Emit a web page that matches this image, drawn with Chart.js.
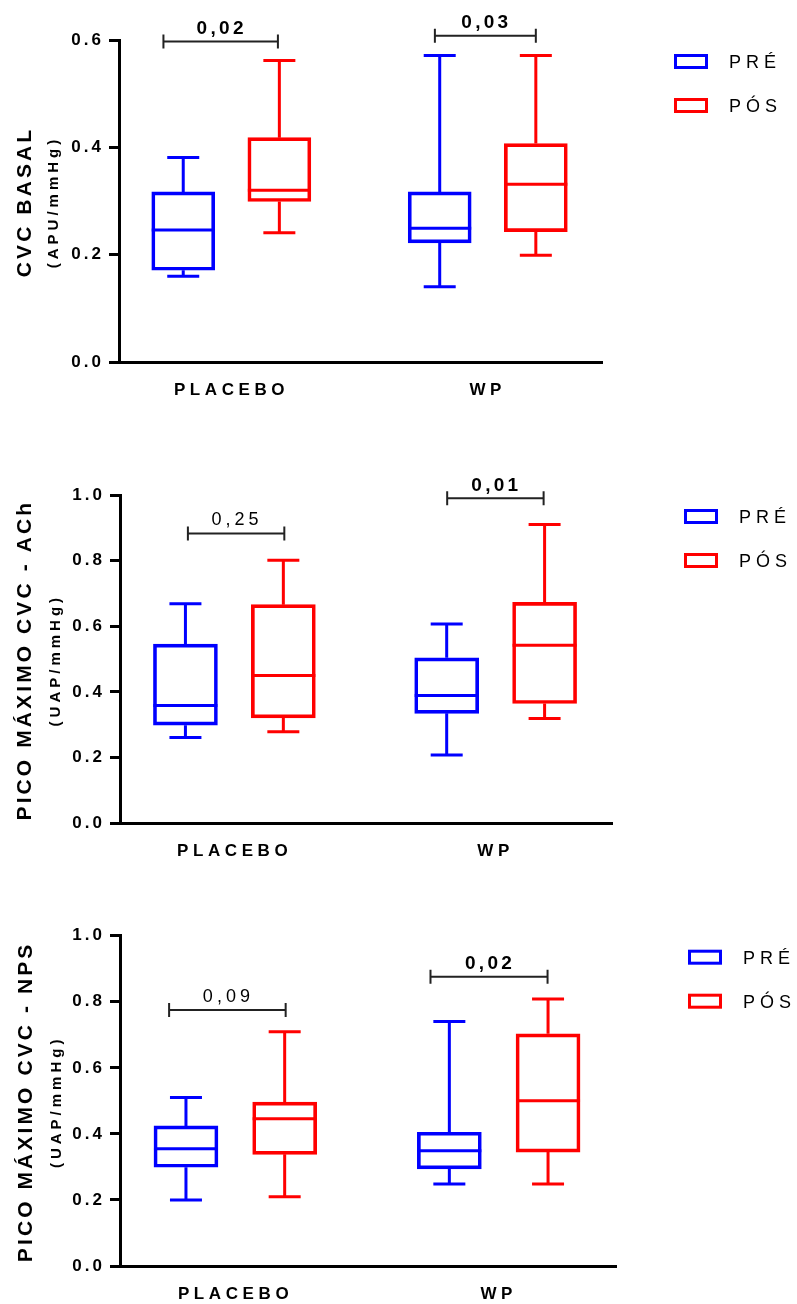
<!DOCTYPE html>
<html>
<head>
<meta charset="utf-8">
<script src="https://cdn.jsdelivr.net/npm/chart.js@4.4.1/dist/chart.umd.min.js"></script>
<style>
  html, body { margin: 0; padding: 0; background: #fff; }
  body { width: 797px; height: 1304px; position: relative; overflow: hidden; }
  canvas { position: absolute; left: 0; display: block; }
</style>
</head>
<body>
<canvas id="basalChart" width="797" height="440" style="top:0px"></canvas>
<canvas id="achChart" width="797" height="450" style="top:440px"></canvas>
<canvas id="npsChart" width="797" height="414" style="top:890px"></canvas>

<script>
// groups on the x axis and the two series
const groups = ["PLACEBO", "WP"];
const seriesNames = ["PRÉ", "PÓS"];

// five-number summaries per group: [min, Q1, median, Q3, max]
const basalPre = [[0.160, 0.171, 0.246, 0.317, 0.381], [0.140, 0.222, 0.249, 0.317, 0.571]];
const basalPos = [[0.241, 0.299, 0.320, 0.418, 0.562], [0.199, 0.243, 0.331, 0.407, 0.571]];
const basalP = ["0,02", "0,03"];
const basalBracketY = [0.597, 0.608];

const achPre = [[0.261, 0.299, 0.359, 0.546, 0.669], [0.208, 0.335, 0.389, 0.504, 0.607]];
const achPos = [[0.279, 0.321, 0.450, 0.666, 0.801], [0.319, 0.365, 0.542, 0.673, 0.910]];
const achP = ["0,25", "0,01"];
const achBracketY = [0.883, 0.990];

const npsPre = [[0.200, 0.299, 0.355, 0.424, 0.510], [0.248, 0.294, 0.349, 0.405, 0.740]];
const npsPos = [[0.210, 0.338, 0.446, 0.496, 0.709], [0.248, 0.345, 0.500, 0.703, 0.808]];
const npsP = ["0,09", "0,02"];
const npsBracketY = [0.775, 0.876];

/* ================= LAYOUT ================= */

const FONT = '"Liberation Sans", Arial, Helvetica, sans-serif';
Chart.defaults.font.family = FONT;
Chart.defaults.color = "#000";

const slotX = { pre: [1.33, 6.64], pos: [3.32, 8.63] };   // x-axis units (0..10)
const groupX = [2.33, 7.635];
const BLUE = "#0000ff";
const RED = "#ff0000";

function spaced(scale, px) {
  if (!scale || scale._spaced) return;
  const draw = scale.drawLabels;
  scale.drawLabels = function (area) {
    const c = this.ctx;
    const old = c.letterSpacing;
    c.letterSpacing = px;
    draw.call(this, area);
    c.letterSpacing = old;
  };
  scale._spaced = true;
}

const boxExtras = {
  id: "boxExtras",
  afterLayout(chart) {
    spaced(chart.scales.x, "4.6px");
    spaced(chart.scales.y, "3px");
  },
  afterDatasetsDraw(chart) {
    const ctx = chart.ctx;
    const ys = chart.scales.y;
    chart.data.datasets.forEach((ds, di) => {
      chart.getDatasetMeta(di).data.forEach((bar, i) => {
        const [mn, q1, md, q3, mx] = ds.stats[i];
        const half = bar.width / 2;
        const cap = 16;
        ctx.save();
        ctx.strokeStyle = ds.borderColor;
        ctx.lineWidth = 3;
        ctx.beginPath();
        ctx.moveTo(bar.x - half, ys.getPixelForValue(md));
        ctx.lineTo(bar.x + half, ys.getPixelForValue(md));
        ctx.moveTo(bar.x, ys.getPixelForValue(q3));
        ctx.lineTo(bar.x, ys.getPixelForValue(mx));
        ctx.moveTo(bar.x - cap, ys.getPixelForValue(mx));
        ctx.lineTo(bar.x + cap, ys.getPixelForValue(mx));
        ctx.moveTo(bar.x, ys.getPixelForValue(q1));
        ctx.lineTo(bar.x, ys.getPixelForValue(mn));
        ctx.moveTo(bar.x - cap, ys.getPixelForValue(mn));
        ctx.lineTo(bar.x + cap, ys.getPixelForValue(mn));
        ctx.stroke();
        ctx.restore();
      });
    });
  },
  afterDraw(chart, args, opts) {
    const ctx = chart.ctx;
    const xs = chart.scales.x, ys = chart.scales.y;
    const area = chart.chartArea;

    // significance brackets
    opts.pLabels.forEach((txt, i) => {
      const x0 = xs.getPixelForValue(opts.spans[i][0]);
      const x1 = xs.getPixelForValue(opts.spans[i][1]);
      const y = ys.getPixelForValue(opts.bracketY[i]);
      const bold = parseFloat(txt.replace(",", ".")) < 0.05;
      ctx.save();
      ctx.strokeStyle = "#222";
      ctx.lineWidth = 2;
      ctx.beginPath();
      ctx.moveTo(x0, y); ctx.lineTo(x1, y);
      ctx.moveTo(x0, y - 7); ctx.lineTo(x0, y + 7);
      ctx.moveTo(x1, y - 7); ctx.lineTo(x1, y + 7);
      ctx.stroke();
      ctx.fillStyle = "#000";
      ctx.font = bold ? "bold 19px " + FONT : "18px " + FONT;
      ctx.letterSpacing = bold ? "3.3px" : "4px";
      ctx.textAlign = "center";
      ctx.textBaseline = "middle";
      ctx.fillText(txt, (x0 + x1) / 2 + 1, y - 13);
      ctx.restore();
    });

    // legend
    chart.data.datasets.forEach((ds, i) => {
      const bx = area.right + 72;
      const by = area.top + 14 + i * 44;
      ctx.save();
      ctx.strokeStyle = ds.borderColor;
      ctx.lineWidth = 3;
      ctx.strokeRect(bx + 1.5, by + 1.5, 31, 12);
      ctx.fillStyle = "#000";
      ctx.font = "18px " + FONT;
      ctx.letterSpacing = "5px";
      ctx.textAlign = "left";
      ctx.textBaseline = "middle";
      ctx.fillText(ds.label, bx + 55, by + 9);
      ctx.restore();
    });

    // rotated y titles
    const midY = (area.top + area.bottom) / 2 + 1;
    ctx.save();
    ctx.fillStyle = "#000";
    ctx.textAlign = "center";
    ctx.textBaseline = "middle";
    ctx.translate(opts.titleX, midY);
    ctx.rotate(-Math.PI / 2);
    ctx.font = "bold 21px " + FONT;
    ctx.letterSpacing = "3.1px";
    ctx.fillText(opts.title, 0, 0);
    ctx.restore();

    ctx.save();
    ctx.fillStyle = "#000";
    ctx.textAlign = "center";
    ctx.textBaseline = "middle";
    ctx.translate(opts.subX, midY);
    ctx.rotate(-Math.PI / 2);
    ctx.font = "bold 15px " + FONT;
    ctx.letterSpacing = "4px";
    ctx.fillText(opts.subtitle, 0, 0);
    ctx.restore();
  }
};

function renderBoxChart(id, pre, pos, cfg) {
  const ctx = document.getElementById(id);
  if (!ctx) return;

  const makeSet = (label, stats, xs, color) => ({
    label,
    stats,
    data: stats.map((s, i) => ({ x: xs[i], y: [s[1], s[3]] })),
    backgroundColor: "rgba(255,255,255,0)",
    borderColor: color,
    borderWidth: 3,
    borderSkipped: false,
    barThickness: cfg.boxWidth,
    grouped: false
  });

  new Chart(ctx, {
    type: "bar",
    data: {
      datasets: [
        makeSet(seriesNames[0], pre, slotX.pre, BLUE),
        makeSet(seriesNames[1], pos, slotX.pos, RED)
      ]
    },
    options: {
      responsive: false,
      animation: false,
      events: [],
      layout: { padding: cfg.padding },
      plugins: {
        legend: { display: false },
        tooltip: { enabled: false },
        boxExtras: {
          pLabels: cfg.pLabels,
          bracketY: cfg.bracketY,
          spans: cfg.spans,
          title: cfg.title,
          subtitle: cfg.subtitle,
          titleX: cfg.titleX,
          subX: cfg.subX
        }
      },
      scales: {
        x: {
          type: "linear",
          min: 0,
          max: 10,
          offset: false,
          afterBuildTicks: s => { s.ticks = groupX.map(v => ({ value: v })); },
          afterFit: s => { s.height = 36; },
          ticks: {
            autoSkip: false,
            maxRotation: 0,
            padding: 18,
            color: "#000",
            font: { size: 17, weight: "bold" },
            callback: (v, i) => groups[i]
          },
          grid: { display: false, drawTicks: false },
          border: { display: true, color: "#000", width: 3 }
        },
        y: {
          min: 0,
          max: cfg.yMax,
          afterFit: s => { s.width = 60; },
          ticks: {
            stepSize: 0.2,
            padding: 5,
            color: "#000",
            font: { size: 17, weight: "bold" },
            callback: v => v.toFixed(1)
          },
          grid: {
            display: true,
            drawOnChartArea: false,
            drawTicks: true,
            tickLength: 10,
            tickWidth: 3,
            tickColor: "#000",
            lineWidth: 3
          },
          border: { display: true, color: "#000", width: 3 }
        }
      }
    },
    plugins: [boxExtras]
  });
}

/* ================= PANELS ================= */

renderBoxChart("basalChart", basalPre, basalPos, {
  yMax: 0.6,
  boxWidth: 63,
  padding: { left: 59, right: 195, top: 40, bottom: 42 },
  pLabels: basalP,
  bracketY: basalBracketY,
  spans: [[0.92, 3.29], [6.54, 8.63]],
  title: "CVC BASAL",
  subtitle: "(APU/mmHg)",
  titleX: 25,
  subX: 54
});

renderBoxChart("achChart", achPre, achPos, {
  yMax: 1.0,
  boxWidth: 64,
  padding: { left: 60, right: 185, top: 55, bottom: 30.7 },
  pLabels: achP,
  bracketY: achBracketY,
  spans: [[1.38, 3.34], [6.65, 8.61]],
  title: "PICO MÁXIMO CVC - ACh",
  subtitle: "(UAP/mmHg)",
  titleX: 25.7,
  subX: 55.8
});

renderBoxChart("npsChart", npsPre, npsPos, {
  yMax: 1.0,
  boxWidth: 64,
  padding: { left: 60, right: 181, top: 45.7, bottom: 2 },
  pLabels: npsP,
  bracketY: npsBracketY,
  spans: [[0.99, 3.34], [6.26, 8.62]],
  title: "PICO MÁXIMO CVC - NPS",
  subtitle: "(UAP/mmHg)",
  titleX: 25.8,
  subX: 56.5
});
</script>
</body>
</html>
